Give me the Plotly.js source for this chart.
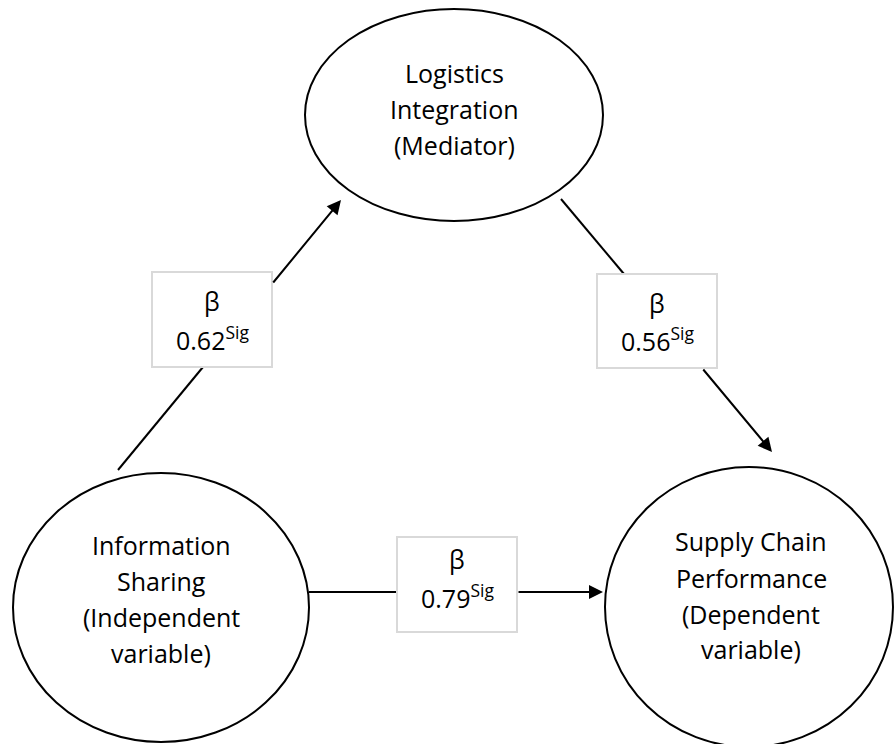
<!DOCTYPE html>
<html>
<head>
<meta charset="utf-8">
<script src="https://cdn.plot.ly/plotly-3.0.1.min.js"></script>
<style>html,body{margin:0;padding:0;background:#fff;}#chart{width:894px;height:744px;}</style>
</head>
<body>
<div id="chart"></div>
<script>
// ---- content ----
const nodeMediator = ['Logistics', 'Integration', '(Mediator)'];
const nodeIndependent = ['Information', 'Sharing', '(Independent', 'variable)'];
const nodeDependent = ['Supply Chain', 'Performance', '(Dependent', 'variable)'];
const pathNames = ['IS→LI', 'LI→SCP', 'IS→SCP'];
const coefficients = [0.62, 0.56, 0.79];
const coefSymbol = 'β';
const coefSuffix = 'Sig';

// ---- layout geometry (pixel-like data coordinates, y downward) ----
const geo = {
  ellipses: [
    {x0: 305, x1: 603, y0: 9, y1: 221, lines: nodeMediator, cx: 454, ys: [73, 109, 145]},
    {x0: 13, x1: 309, y0: 473, y1: 742, lines: nodeIndependent, cx: 161, ys: [545, 581, 617, 653]},
    {x0: 605, x1: 893, y0: 467, y1: 747, lines: nodeDependent, cx: 751, ys: [541, 578, 614, 649]}
  ],
  boxes: [
    {x0: 152, x1: 272, y0: 272, y1: 367, cx: 212, yb: 301, yv: 338},
    {x0: 597, x1: 717, y0: 274, y1: 368, cx: 657, yb: 303, yv: 339},
    {x0: 397, x1: 517, y0: 537, y1: 632, cx: 457, yb: 559, yv: 596}
  ],
  // plain segment (start -> box) and arrow segment (box -> tip)
  segs: [
    {a: [118, 470], b: [203, 367]},
    {a: [561, 199], b: [624, 274]},
    {a: [309, 592], b: [397, 592]}
  ],
  arrows: [
    {from: [272, 284], to: [341, 200]},
    {from: [702, 368], to: [772, 452]},
    {from: [517, 592], to: [603, 592]}
  ]
};

const FONT = 'Open Sans, Lato, sans-serif';
const FS = 25;
const shapes = [];
const annotations = [];

geo.segs.forEach(s => shapes.push({type: 'line', xref: 'x', yref: 'y', x0: s.a[0], y0: s.a[1], x1: s.b[0], y1: s.b[1], line: {color: '#000', width: 2}, layer: 'above'}));

geo.ellipses.forEach(e => {
  shapes.push({type: 'circle', xref: 'x', yref: 'y', x0: e.x0, x1: e.x1, y0: e.y0, y1: e.y1, line: {color: '#000', width: 2}, fillcolor: 'rgba(0,0,0,0)', layer: 'above'});
  e.lines.forEach((t, i) => annotations.push({x: e.cx, y: e.ys[i], xref: 'x', yref: 'y', text: t, showarrow: false, xanchor: 'center', yanchor: 'middle', font: {family: FONT, size: FS, color: '#000'}}));
});

geo.boxes.forEach((b, i) => {
  shapes.push({type: 'rect', xref: 'x', yref: 'y', x0: b.x0, x1: b.x1, y0: b.y0, y1: b.y1, line: {color: '#d9d9d9', width: 2}, fillcolor: '#fff', layer: 'above'});
  annotations.push({x: b.cx, y: b.yb, xref: 'x', yref: 'y', text: coefSymbol, showarrow: false, xanchor: 'center', yanchor: 'middle', font: {family: FONT, size: FS, color: '#000'}});
  annotations.push({x: b.cx, y: b.yv, xref: 'x', yref: 'y', text: coefficients[i].toFixed(2) + '<sup>' + coefSuffix + '</sup>', showarrow: false, xanchor: 'center', yanchor: 'middle', font: {family: FONT, size: FS, color: '#000'}, name: pathNames[i]});
});

geo.arrows.forEach(a => annotations.push({
  x: a.to[0], y: a.to[1], xref: 'x', yref: 'y', ax: a.from[0], ay: a.from[1], axref: 'x', ayref: 'y',
  text: '', showarrow: true, arrowhead: 2, arrowsize: 1.4, arrowwidth: 2, arrowcolor: '#000', standoff: 0
}));

const layout = {
  width: 894, height: 744,
  margin: {l: 0, r: 0, t: 0, b: 0},
  paper_bgcolor: '#fff', plot_bgcolor: '#fff',
  showlegend: false,
  xaxis: {range: [0, 894], visible: false, fixedrange: true},
  yaxis: {range: [744, 0], visible: false, fixedrange: true},
  shapes: shapes,
  annotations: annotations
};

Plotly.newPlot('chart', [{x: [], y: [], type: 'scatter', mode: 'markers', hoverinfo: 'skip'}], layout, {staticPlot: true, displayModeBar: false});
</script>
</body>
</html>
